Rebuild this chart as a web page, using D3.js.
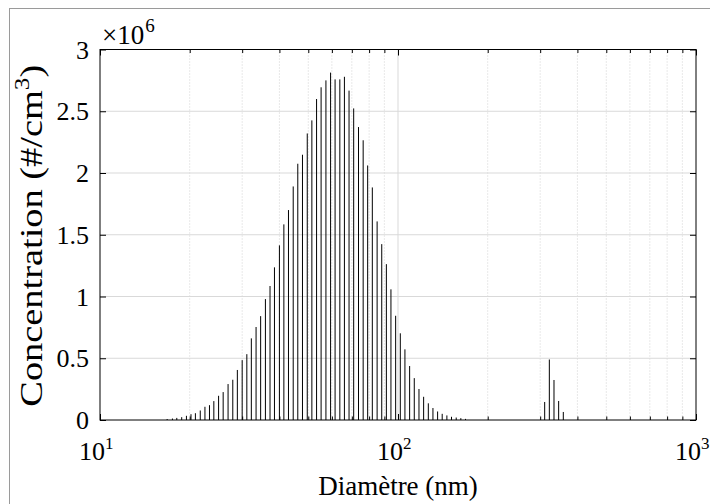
<!DOCTYPE html>
<html>
<head>
<meta charset="utf-8">
<script src="https://cdn.jsdelivr.net/npm/d3@7"></script>
<style>
  body { margin: 0; background: #fff; }
  text { font-family: "Liberation Serif", "Times New Roman", serif; fill: #000; }
</style>
</head>
<body>
<svg width="710" height="504"></svg>
<script>
// SMPS channel midpoints (nm) that carry a non-zero count
const diameters = [
  16.8, 17.5, 18.1, 18.8, 19.5, 20.2, 20.9, 21.7, 22.5, 23.3,
  24.1, 25.0, 25.9, 26.9, 27.9, 28.9, 30.0, 31.1, 32.2, 33.4,
  34.6, 35.9, 37.2, 38.5, 40.0, 41.4, 42.9, 44.5, 46.1, 47.8,
  49.6, 51.4, 53.3, 55.2, 57.3, 59.4, 61.5, 63.8, 66.1, 68.5,
  71.0, 73.7, 76.4, 79.1, 82.0, 85.1, 88.2, 91.4, 94.7, 98.2,
  101.8, 105.5, 109.4, 113.4, 117.6, 121.9, 126.4, 131.0, 135.8, 140.7,
  145.9, 151.2, 156.8, 162.5, 168.5,
  310.6, 322.0, 333.8, 346.0, 358.7
];
// concentration in #/cm3
const concentrations = [
  0.008e6, 0.012e6, 0.017e6, 0.023e6, 0.034e6, 0.047e6, 0.055e6, 0.077e6, 0.107e6, 0.12e6,
  0.153e6, 0.196e6, 0.226e6, 0.291e6, 0.326e6, 0.405e6, 0.485e6, 0.533e6, 0.661e6, 0.753e6,
  0.841e6, 0.979e6, 1.085e6, 1.236e6, 1.414e6, 1.584e6, 1.7e6, 1.891e6, 2.075e6, 2.148e6,
  2.32e6, 2.426e6, 2.599e6, 2.694e6, 2.75e6, 2.813e6, 2.758e6, 2.758e6, 2.779e6, 2.667e6,
  2.523e6, 2.372e6, 2.265e6, 2.061e6, 1.883e6, 1.608e6, 1.424e6, 1.262e6, 1.058e6, 0.844e6,
  0.702e6, 0.572e6, 0.437e6, 0.339e6, 0.251e6, 0.188e6, 0.135e6, 0.097e6, 0.069e6, 0.05e6,
  0.037e6, 0.026e6, 0.02e6, 0.015e6, 0.009e6,
  0.146e6, 0.49e6, 0.324e6, 0.154e6, 0.065e6
];

const xMajor = [10, 100, 1000];
const xMajorExp = ["1", "2", "3"];
const xMinor = [20, 30, 40, 50, 60, 70, 80, 90, 200, 300, 400, 500, 600, 700, 800, 900];
const yTicks = [0, 0.5e6, 1e6, 1.5e6, 2e6, 2.5e6, 3e6];
const yTickLabels = ["0", "0.5", "1", "1.5", "2", "2.5", "3"];

const svg = d3.select("svg");
const plotLeft = 100, plotRight = 696, plotTop = 49.5, plotBottom = 420;

const x = d3.scaleLog().domain([10, 1000]).range([plotLeft, plotRight]);
const y = d3.scaleLinear().domain([0, 3e6]).range([plotBottom, plotTop]);

// figure border
svg.append("rect")
  .attr("x", 9.5).attr("y", 8.5)
  .attr("width", 800).attr("height", 600)
  .attr("fill", "none").attr("stroke", "#9a9a9a");

// grid
const grid = svg.append("g");
grid.selectAll("line.minor")
  .data(xMinor)
  .enter().append("line")
  .attr("x1", (d) => x(d)).attr("x2", (d) => x(d))
  .attr("y1", plotTop).attr("y2", plotBottom)
  .attr("stroke", "#d2d2d2").attr("stroke-dasharray", "1,2");
grid.selectAll("line.ymaj")
  .data(yTicks.slice(1, -1))
  .enter().append("line")
  .attr("x1", plotLeft).attr("x2", plotRight)
  .attr("y1", (d) => y(d)).attr("y2", (d) => y(d))
  .attr("stroke", "#d9d9d9");
grid.append("line")
  .attr("x1", x(100)).attr("x2", x(100))
  .attr("y1", plotTop).attr("y2", plotBottom)
  .attr("stroke", "#d9d9d9");

// bars (stems)
svg.append("g")
  .selectAll("line")
  .data(diameters)
  .enter().append("line")
  .attr("x1", (d) => x(d)).attr("x2", (d) => x(d))
  .attr("y1", y(0))
  .attr("y2", (d, i) => y(concentrations[i]))
  .attr("stroke", "#000").attr("stroke-width", 1);

// axes, ticks pointing inward on all four sides
function tickAxis(axis, transform) {
  const g = svg.append("g").attr("transform", transform).call(axis);
  g.select("path.domain").remove();
  g.selectAll("text").remove();
  g.selectAll("line").attr("stroke", "#000");
}
tickAxis(d3.axisBottom(x).tickValues(xMajor).tickSize(-6).tickSizeOuter(0), `translate(0,${plotBottom})`);
tickAxis(d3.axisBottom(x).tickValues(xMinor).tickSize(-3.5).tickSizeOuter(0), `translate(0,${plotBottom})`);
tickAxis(d3.axisTop(x).tickValues(xMajor).tickSize(-6).tickSizeOuter(0), `translate(0,${plotTop})`);
tickAxis(d3.axisTop(x).tickValues(xMinor).tickSize(-3.5).tickSizeOuter(0), `translate(0,${plotTop})`);
tickAxis(d3.axisLeft(y).tickValues(yTicks).tickSize(-6).tickSizeOuter(0), `translate(${plotLeft},0)`);
tickAxis(d3.axisRight(y).tickValues(yTicks).tickSize(-6).tickSizeOuter(0), `translate(${plotRight},0)`);

svg.append("rect")
  .attr("x", plotLeft).attr("y", plotTop)
  .attr("width", plotRight - plotLeft).attr("height", plotBottom - plotTop)
  .attr("fill", "none").attr("stroke", "#000");

// tick labels
svg.append("g")
  .selectAll("text")
  .data(yTicks)
  .enter().append("text")
  .attr("x", 89)
  .attr("y", (d) => y(d) + 9)
  .attr("text-anchor", "end")
  .attr("font-size", 26)
  .text((d, i) => yTickLabels[i]);

const xl = svg.append("g")
  .selectAll("text")
  .data(xMajor)
  .enter().append("text")
  .attr("x", (d) => x(d) - 21)
  .attr("y", 460)
  .attr("font-size", 26);
xl.append("tspan").text("10");
xl.append("tspan").attr("font-size", 17).attr("dy", -11).text((d, i) => xMajorExp[i]);

const mult = svg.append("text").attr("x", 102).attr("y", 44).attr("font-size", 27);
mult.append("tspan").text("\u00d710");
mult.append("tspan").attr("font-size", 19).attr("dy", -12).attr("dx", 1).text("6");

// axis titles
svg.append("text")
  .attr("x", (plotLeft + plotRight) / 2).attr("y", 495)
  .attr("text-anchor", "middle")
  .attr("font-size", 27)
  .text("Diamètre (nm)");

const yl = svg.append("text")
  .attr("transform", `translate(42,${(plotTop + plotBottom) / 2 + 1}) rotate(-90) scale(1.2,1)`)
  .attr("text-anchor", "middle")
  .attr("font-size", 32);
yl.append("tspan").text("Concentration (#/cm");
yl.append("tspan").attr("font-size", 21).attr("dy", -13).text("3");
yl.append("tspan").attr("dy", 13).text(")");
</script>
</body>
</html>
